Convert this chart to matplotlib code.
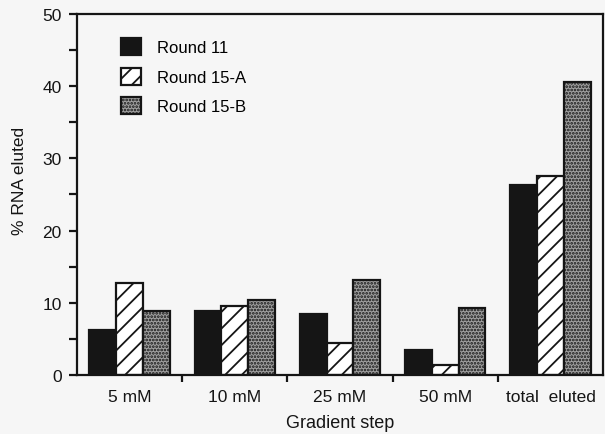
import matplotlib
matplotlib.use("Agg")
import matplotlib.pyplot as plt
import numpy as np

categories = ["5 mM", "10 mM", "25 mM", "50 mM", "total  eluted"]
round11 = [6.3, 8.9, 8.5, 3.4, 26.3]
round15a = [12.8, 9.5, 4.4, 1.4, 27.5]
round15b = [8.8, 10.4, 13.1, 9.3, 40.6]
series_labels = ["Round 11", "Round 15-A", "Round 15-B"]

plt.rcParams['font.family'] = ['Liberation Sans', 'DejaVu Sans']
plt.rcParams['hatch.linewidth'] = 1.3

bg = '#f6f6f6'
ink = '#151515'
fig = plt.figure(figsize=(6.05, 4.35), dpi=100, facecolor=bg)
ax = fig.add_axes([0.127, 0.1356, 0.870, 0.830])
ax.set_facecolor(bg)

x = np.arange(len(categories))
w = 0.254
lw = 1.6
ax.bar(x - w, round11, w, color=ink, edgecolor=ink, linewidth=lw, label=series_labels[0])
ax.bar(x, round15a, w, color='white', edgecolor=ink, hatch='//', linewidth=lw, label=series_labels[1])
ax.bar(x + w, round15b, w, color='#a0a0a0', edgecolor=ink, hatch='.....', linewidth=lw, label=series_labels[2])

ax.set_xlim(-0.5, 4.5)
ax.set_ylim(0, 50)
ax.set_yticks([0, 10, 20, 30, 40, 50])
ax.set_yticks([5, 15, 25, 35, 45], minor=True)
ax.set_xticks(x)
ax.set_xticklabels(categories)
ax.set_xticks([0.5, 1.5, 2.5, 3.5], minor=True)

for s in ax.spines.values():
    s.set_linewidth(1.6)
    s.set_color(ink)

ax.tick_params(axis='y', which='both', direction='out', length=6, width=1.6, labelsize=12.5, colors=ink, pad=5)
ax.tick_params(axis='x', which='major', length=0, labelsize=12.5, pad=10, colors=ink)
ax.tick_params(axis='x', which='minor', direction='out', length=5, width=1.6, colors=ink)

ax.set_ylabel("% RNA eluted", fontsize=12.5, color=ink, labelpad=8)
ax.yaxis.set_label_coords(-0.095, 0.54)
ax.set_xlabel("Gradient step", fontsize=13, color=ink, labelpad=7)

ax.legend(loc='upper left', bbox_to_anchor=(0.055, 0.975), frameon=False,
          fontsize=12, handlelength=1.2, handleheight=1.2, labelspacing=0.75,
          handletextpad=1.0)

fig.savefig("out.png", dpi=100, facecolor=bg)
